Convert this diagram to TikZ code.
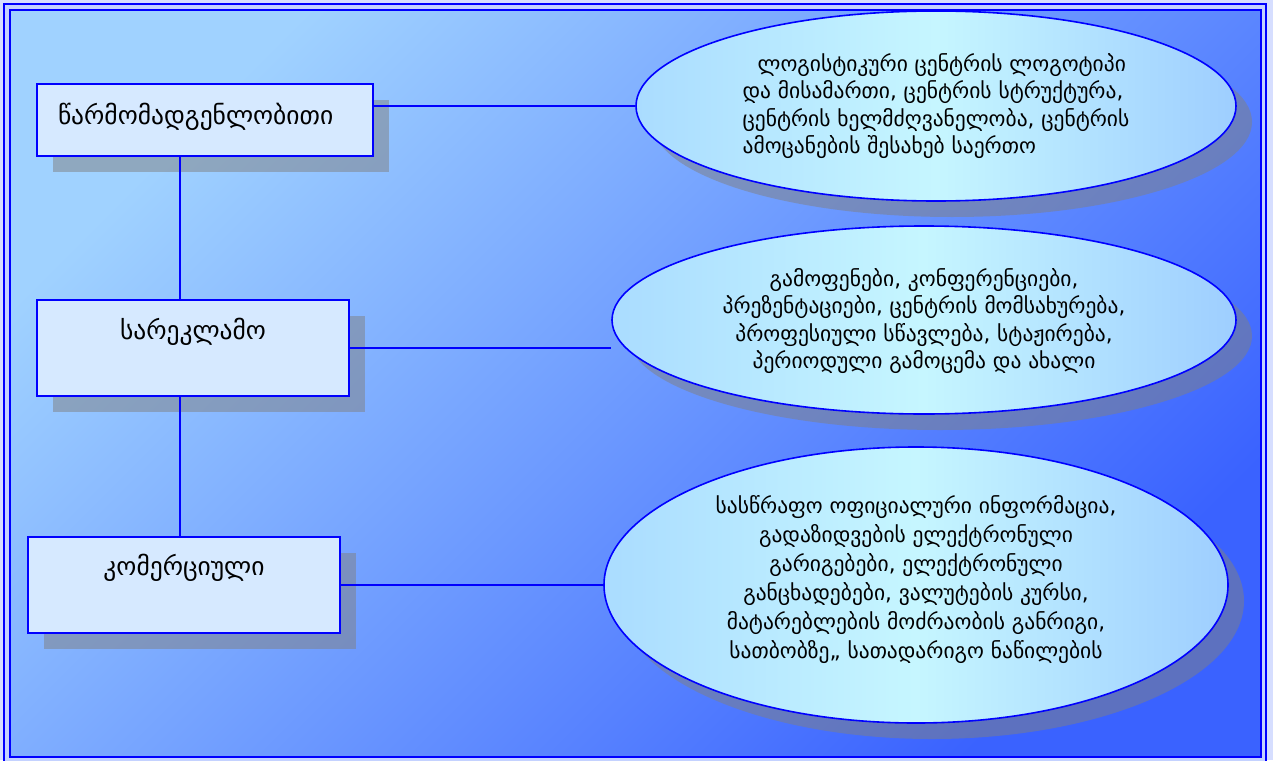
\documentclass[tikz,border=0pt]{standalone}
\usepackage{fontspec}
\setmainfont{DejaVu Sans}
\usetikzlibrary{shapes.geometric,shadows}

\definecolor{frameblue}{RGB}{0,0,255}
\definecolor{pagefill}{RGB}{214,222,255}
\definecolor{gapfill}{RGB}{196,210,255}
\definecolor{bgtop}{RGB}{160,210,255}
\definecolor{bgbottom}{RGB}{58,98,255}
\definecolor{boxfill}{RGB}{214,233,255}
\definecolor{bubbleleft}{RGB}{170,220,255}
\definecolor{bubblemid}{RGB}{198,246,255}
\definecolor{bubbleright}{RGB}{158,206,255}

% text block of a bubble: zero-size box, centred and raised by #1
\newcommand\bubblelines[2]{\makebox[0pt]{\raisebox{#1}[0pt][0pt]{#2}}}

\tikzset{
  heading/.style={draw=frameblue, line width=2pt, fill=boxfill, anchor=north west,
    inner xsep=0pt, inner ysep=0pt, font=\fontsize{25.5}{30}\selectfont,
    drop shadow={shadow xshift=16pt, shadow yshift=-16pt}},
  bubble/.style={ellipse, draw=frameblue, line width=1.6pt,
    left color=bubbleleft, right color=bubbleright, middle color=bubblemid,
    inner sep=0pt, font=\fontsize{21.5}{27.5}\selectfont,
    drop shadow={shadow xshift=16pt, shadow yshift=-16pt}},
  link/.style={draw=frameblue, line width=1.5pt},
}

\begin{document}
\begin{tikzpicture}[x=1pt,y=-1pt]
\useasboundingbox (0,0) rectangle (1273,760);
\fill[pagefill] (0,0) rectangle (1273,760);
% double frame with the gradient panel inside
\draw[frameblue, line width=1.5pt, fill=gapfill] (4,4) rectangle (1266,766);
\shade[draw=frameblue, line width=2pt, top color=bgtop, bottom color=bgbottom, shading angle=45]
  (10,10) rectangle (1261,757);

% category boxes
\node[heading, align=left, text width=294pt, inner xsep=21pt,
      text height=40pt, text depth=32pt] (rep) at (36,83) {წარმომადგენლობითი};
\node[heading, minimum width=312pt, text height=39pt, text depth=57pt]
      (adv) at (36,299) {სარეკლამო};
\node[heading, minimum width=312pt, text height=38pt, text depth=58pt]
      (com) at (27,536) {კომერციული};

% description bubbles
\node[bubble, minimum width=600pt, minimum height=190pt] (e1) at (936,106)
  {\bubblelines{-6pt}{\begin{tabular}{@{}l@{}}
    \hspace{15pt}ლოგისტიკური ცენტრის ლოგოტიპი\\
    და მისამართი, ცენტრის სტრუქტურა,\\
    ცენტრის ხელმძღვანელობა, ცენტრის\\
    ამოცანების შესახებ საერთო
  \end{tabular}}};
\node[bubble, minimum width=624pt, minimum height=188pt] (e2) at (924,320)
  {\bubblelines{-7pt}{\begin{tabular}{@{}c@{}}
    გამოფენები, კონფერენციები,\\
    პრეზენტაციები, ცენტრის მომსახურება,\\
    პროფესიული სწავლება, სტაჟირება,\\
    პერიოდული გამოცემა და ახალი
  \end{tabular}}};
\node[bubble, minimum width=624pt, minimum height=276pt, font=\fontsize{21.5}{29}\selectfont]
  (e3) at (916,585)
  {\bubblelines{0pt}{\begin{tabular}{@{}c@{}}
    სასწრაფო ოფიციალური ინფორმაცია,\\
    გადაზიდვების ელექტრონული\\
    გარიგებები, ელექტრონული\\
    განცხადებები, ვალუტების კურსი,\\
    მატარებლების მოძრაობის განრიგი,\\
    სათბობზე,, სათადარიგო ნაწილების
  \end{tabular}}};

% connectors
\coordinate (trunk) at (180,0);
\draw[link] (trunk |- rep.south) -- (trunk |- adv.north);
\draw[link] (trunk |- adv.south) -- (trunk |- com.north);
\draw[link] (rep.east |- e1.west) -- (e1.west);
\draw[link] (adv.east) -- (adv.east -| e2.west);
\draw[link] (com.east |- e3.west) -- (e3.west);
\end{tikzpicture}
\end{document}
